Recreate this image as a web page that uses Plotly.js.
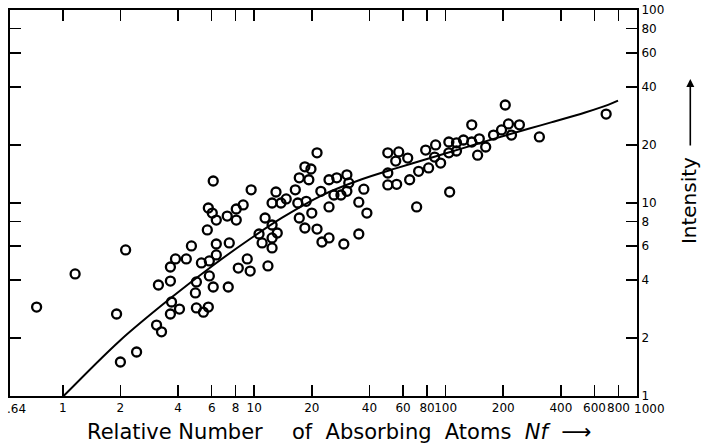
<!DOCTYPE html>
<html><head><meta charset="utf-8">
<script src="https://cdn.plot.ly/plotly-3.0.1.min.js"></script>
<style>html,body{margin:0;padding:0;background:#fff}#chart{width:703px;height:444px}</style>
</head><body><div id="chart"></div>
<script>
// Observed points: relative number of absorbing atoms Nf vs intensity
const atomsN = [0.73,1.16,2.13,1.91,2.00,2.43,3.09,3.28,3.16,3.65,3.65,3.88,3.70,3.65,4.07,4.42,4.70,4.93,4.99,4.99,
  5.43,5.76,5.30,5.83,5.83,6.11,6.34,6.34,5.69,5.76,6.04,6.34,6.11,7.32,7.41,7.23,8.06,8.06,8.76,8.26,
  9.20,9.53,9.64,11.4,10.6,11.0,12.4,12.4,12.4,13.2,11.8,12.4,13.0,13.8,14.7,16.4,16.9,18.7,17.2,18.4,
  20.0,21.3,22.6,24.6,29.4,17.2,18.4,19.8,19.3,21.3,22.3,24.6,27.0,26.1,28.4,30.5,30.5,24.6,31.2,35.2,
  37.4,38.8,35.2,49.9,56.9,54.9,63.4,49.9,49.9,55.5,64.9,70.6,78.7,88.7,87.6,94.2,81.5,72.3,104,114,
  114,104,124,137,150,147,162,137,105,178,196,213,221,243,205,309,690];
const intensity = [2.89,4.29,5.71,2.66,1.50,1.69,2.33,2.15,3.76,3.94,4.66,5.13,3.07,2.66,2.82,5.13,5.99,3.42,3.90,2.86,
  2.72,2.89,4.89,5.01,4.19,3.67,5.38,6.13,7.25,9.42,8.87,8.16,13.0,3.67,6.21,8.56,8.16,9.31,9.77,4.60,
  5.13,4.44,11.7,8.36,6.91,6.21,7.69,6.59,5.85,6.99,4.72,10.0,11.4,10.0,10.5,11.7,10.0,10.2,8.36,7.42,
  8.87,7.33,6.28,6.59,6.13,13.5,15.4,15.0,13.2,18.2,11.5,13.2,13.5,11.0,11.0,14.0,11.5,9.54,12.7,10.1,
  11.8,8.87,6.91,18.2,18.4,16.5,17.1,14.3,12.4,12.5,13.2,9.54,18.8,20.0,17.3,16.1,15.2,14.6,20.7,20.5,
  18.6,18.2,21.2,20.7,21.5,17.7,19.5,25.4,11.4,22.5,23.9,25.7,22.5,25.4,32.2,22.0,28.9];

// Smooth curve of growth
const curveN = [1.01,1.98,3.61,6.04,9.42,14.0,22.6,36.5,54.9,81.5,121,182,271,356,536,706,796];
const curveI = [1.0,1.93,3.18,4.72,6.47,8.39,10.96,13.27,15.11,17.01,19.14,21.61,24.24,26.16,29.44,32.24,33.89];

const xTickVals = [1,2,4,6,8,10,20,40,60,80,100,200,400,600,800,1000];
const xTickText = ['1','2','4','6','8','10','20','40','60','80','100','200','400','600','800',''];
const yTickVals = [1,2,4,6,8,10,20,40,60,80,100];
const yTickText = ['1','2','4','6','8','10','20','40','60','80','100'];

const FONT = 'DejaVu Sans, Liberation Sans, sans-serif';

const traces = [
  {x: curveN, y: curveI, mode: 'lines', type: 'scatter',
   line: {color: '#000', width: 2, shape: 'spline', smoothing: 0.9}, hoverinfo: 'skip'},
  {x: atomsN, y: intensity, mode: 'markers', type: 'scatter',
   marker: {symbol: 'circle-open', size: 9, color: '#000', line: {color: '#000', width: 2.3}}}
];

const axisCommon = {
  type: 'log', ticks: 'inside', ticklen: 11, tickwidth: 1.5, tickcolor: '#000',
  showline: true, linewidth: 2, linecolor: '#000', mirror: 'ticks',
  showgrid: false, zeroline: false, tickangle: 0,
  tickfont: {family: FONT, size: 12, color: '#000'}
};

const layout = {
  width: 703, height: 444,
  margin: {l: 10, r: 66, t: 10, b: 48},
  paper_bgcolor: '#fff', plot_bgcolor: '#fff',
  showlegend: false,
  xaxis: Object.assign({}, axisCommon, {
    range: [Math.log10(0.53), 3], tickmode: 'array', tickvals: xTickVals, ticktext: xTickText
  }),
  yaxis: Object.assign({}, axisCommon, {
    range: [0, 2], side: 'right', tickmode: 'array', tickvals: yTickVals, ticktext: yTickText
  }),
  annotations: [
    {text: '.64', xref: 'paper', yref: 'paper', x: 0.011, y: 0, xanchor: 'center', yanchor: 'top', yshift: -4,
     showarrow: false, font: {family: FONT, size: 12, color: '#000'}},
    {text: '1000', xref: 'paper', yref: 'paper', x: 1.02, y: 0, xanchor: 'center', yanchor: 'top', yshift: -4,
     showarrow: false, font: {family: FONT, size: 12, color: '#000'}},
    {text: 'Relative Number', xref: 'paper', yref: 'paper',
     x: 0.1196, y: -0.093, xanchor: 'left', yanchor: 'middle', showarrow: false,
     font: {family: FONT, size: 21, color: '#000'}},
    {text: 'of\u00A0 Absorbing\u00A0 Atoms\u00A0 <i>Nf</i>\u00A0 ⟶', xref: 'paper', yref: 'paper',
     x: 0.4466, y: -0.093, xanchor: 'left', yanchor: 'middle', showarrow: false,
     font: {family: FONT, size: 21, color: '#000'}},
    {text: 'Intensity', xref: 'paper', yref: 'paper', x: 1.083, y: 0.505,
     xanchor: 'center', yanchor: 'middle', textangle: -90, showarrow: false,
     font: {family: FONT, size: 20, color: '#000'}},
    {text: '', xref: 'paper', yref: 'paper', x: 1.085, y: 0.821,
     showarrow: true, ax: 0, ay: 68, arrowhead: 2, arrowsize: 1, arrowwidth: 1.6, arrowcolor: '#000'}
  ]
};

Plotly.newPlot('chart', traces, layout, {displayModeBar: false, staticPlot: true});
</script>
</body></html>
